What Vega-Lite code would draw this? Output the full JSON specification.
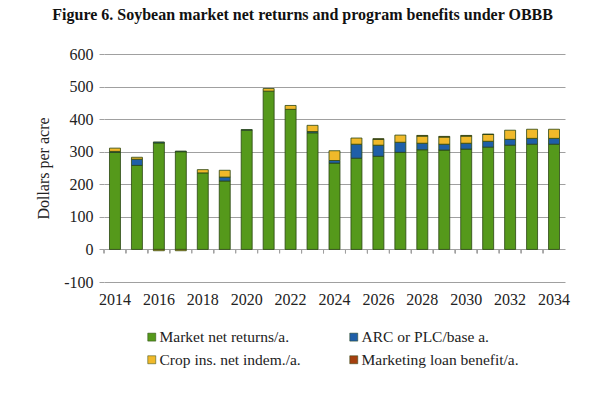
{
  "$schema": "https://vega.github.io/schema/vega-lite/v6.json",
  "width": 461,
  "height": 228,
  "autosize": {"type": "none"},
  "padding": {"left": 104, "top": 54, "right": 35, "bottom": 113},
  "background": "white",
  "title": {
    "text": "Figure 6. Soybean market net returns and program benefits under OBBB",
    "font": "Liberation Serif",
    "fontSize": 16,
    "fontWeight": "bold",
    "color": "#111111",
    "anchor": "middle",
    "frame": "bounds",
    "offset": 23
  },
  "config": {
    "view": {"stroke": null},
    "axis": {"labelFont": "Liberation Serif", "titleFont": "Liberation Serif", "labelColor": "#222222", "titleColor": "#222222"},
    "legend": {"labelFont": "Liberation Serif", "labelColor": "#222222"}
  },
  "data": {
    "values": [
      {"year": 2014, "series": "Market net returns/a.", "value": 298},
      {"year": 2014, "series": "ARC or PLC/base a.", "value": 3},
      {"year": 2014, "series": "Crop ins. net indem./a.", "value": 10},
      {"year": 2015, "series": "Market net returns/a.", "value": 258},
      {"year": 2015, "series": "ARC or PLC/base a.", "value": 19},
      {"year": 2015, "series": "Crop ins. net indem./a.", "value": 6},
      {"year": 2016, "series": "Market net returns/a.", "value": 327},
      {"year": 2016, "series": "ARC or PLC/base a.", "value": 3},
      {"year": 2016, "series": "Crop ins. net indem./a.", "value": -4},
      {"year": 2017, "series": "Market net returns/a.", "value": 300},
      {"year": 2017, "series": "ARC or PLC/base a.", "value": 2},
      {"year": 2017, "series": "Crop ins. net indem./a.", "value": -4},
      {"year": 2018, "series": "Market net returns/a.", "value": 235},
      {"year": 2018, "series": "Crop ins. net indem./a.", "value": 10},
      {"year": 2019, "series": "Market net returns/a.", "value": 210},
      {"year": 2019, "series": "ARC or PLC/base a.", "value": 12},
      {"year": 2019, "series": "Crop ins. net indem./a.", "value": 21},
      {"year": 2020, "series": "Market net returns/a.", "value": 366},
      {"year": 2020, "series": "ARC or PLC/base a.", "value": 2},
      {"year": 2021, "series": "Market net returns/a.", "value": 486},
      {"year": 2021, "series": "Crop ins. net indem./a.", "value": 8},
      {"year": 2022, "series": "Market net returns/a.", "value": 430},
      {"year": 2022, "series": "Crop ins. net indem./a.", "value": 12},
      {"year": 2023, "series": "Market net returns/a.", "value": 358},
      {"year": 2023, "series": "ARC or PLC/base a.", "value": 4},
      {"year": 2023, "series": "Crop ins. net indem./a.", "value": 19},
      {"year": 2024, "series": "Market net returns/a.", "value": 265},
      {"year": 2024, "series": "ARC or PLC/base a.", "value": 8},
      {"year": 2024, "series": "Crop ins. net indem./a.", "value": 30},
      {"year": 2025, "series": "Market net returns/a.", "value": 280},
      {"year": 2025, "series": "ARC or PLC/base a.", "value": 43},
      {"year": 2025, "series": "Crop ins. net indem./a.", "value": 19},
      {"year": 2026, "series": "Market net returns/a.", "value": 286},
      {"year": 2026, "series": "ARC or PLC/base a.", "value": 34},
      {"year": 2026, "series": "Crop ins. net indem./a.", "value": 18},
      {"year": 2026, "series": "Marketing loan benefit/a.", "value": 2},
      {"year": 2027, "series": "Market net returns/a.", "value": 298},
      {"year": 2027, "series": "ARC or PLC/base a.", "value": 31},
      {"year": 2027, "series": "Crop ins. net indem./a.", "value": 22},
      {"year": 2028, "series": "Market net returns/a.", "value": 306},
      {"year": 2028, "series": "ARC or PLC/base a.", "value": 20},
      {"year": 2028, "series": "Crop ins. net indem./a.", "value": 22},
      {"year": 2028, "series": "Marketing loan benefit/a.", "value": 2},
      {"year": 2029, "series": "Market net returns/a.", "value": 305},
      {"year": 2029, "series": "ARC or PLC/base a.", "value": 18},
      {"year": 2029, "series": "Crop ins. net indem./a.", "value": 22},
      {"year": 2029, "series": "Marketing loan benefit/a.", "value": 2},
      {"year": 2030, "series": "Market net returns/a.", "value": 308},
      {"year": 2030, "series": "ARC or PLC/base a.", "value": 18},
      {"year": 2030, "series": "Crop ins. net indem./a.", "value": 22},
      {"year": 2030, "series": "Marketing loan benefit/a.", "value": 2},
      {"year": 2031, "series": "Market net returns/a.", "value": 314},
      {"year": 2031, "series": "ARC or PLC/base a.", "value": 18},
      {"year": 2031, "series": "Crop ins. net indem./a.", "value": 21},
      {"year": 2031, "series": "Marketing loan benefit/a.", "value": 1},
      {"year": 2032, "series": "Market net returns/a.", "value": 320},
      {"year": 2032, "series": "ARC or PLC/base a.", "value": 18},
      {"year": 2032, "series": "Crop ins. net indem./a.", "value": 28},
      {"year": 2033, "series": "Market net returns/a.", "value": 323},
      {"year": 2033, "series": "ARC or PLC/base a.", "value": 18},
      {"year": 2033, "series": "Crop ins. net indem./a.", "value": 28},
      {"year": 2034, "series": "Market net returns/a.", "value": 323},
      {"year": 2034, "series": "ARC or PLC/base a.", "value": 18},
      {"year": 2034, "series": "Crop ins. net indem./a.", "value": 28}
    ]
  },
  "layer": [
    {
      "transform": [
        {"calculate": "indexof(['Market net returns/a.', 'ARC or PLC/base a.', 'Crop ins. net indem./a.', 'Marketing loan benefit/a.'], datum.series)", "as": "stackOrder"}
      ],
      "mark": {"type": "bar", "stroke": "#2a4512", "strokeWidth": 0.8},
      "encoding": {
        "x": {
          "field": "year",
          "type": "ordinal",
          "scale": {"paddingInner": 0.5, "paddingOuter": 0.25},
          "axis": {
            "values": [2014, 2016, 2018, 2020, 2022, 2024, 2026, 2028, 2030, 2032, 2034],
            "title": null,
            "labelAngle": 0,
            "labelFont": "Liberation Serif",
            "labelFontSize": 16,
            "labelPadding": 9,
            "labelOverlap": false,
            "domain": false,
            "ticks": false
          }
        },
        "y": {
          "field": "value",
          "type": "quantitative",
          "scale": {"domain": [-100, 600], "nice": false},
          "axis": {
            "values": [-100, 0, 100, 200, 300, 400, 500, 600],
            "tickCount": 20,
            "labelExpr": "toString(datum.value)",
            "title": "Dollars per acre",
            "titleFont": "Liberation Serif",
            "titleFontSize": 16,
            "titleFontWeight": "normal",
            "titlePadding": 12,
            "labelFont": "Liberation Serif",
            "labelFontSize": 16,
            "labelPadding": 6,
            "labelOverlap": false,
            "domain": false,
            "ticks": true,
            "tickSize": 5,
            "tickColor": "#a0a0a0",
            "grid": true,
            "gridColor": "#a0a0a0",
            "gridWidth": 1
          }
        },
        "order": {"field": "stackOrder", "type": "quantitative", "sort": "ascending"},
        "color": {
          "field": "series",
          "type": "nominal",
          "sort": ["Market net returns/a.", "ARC or PLC/base a.", "Crop ins. net indem./a.", "Marketing loan benefit/a."],
          "scale": {
            "domain": ["Market net returns/a.", "ARC or PLC/base a.", "Crop ins. net indem./a.", "Marketing loan benefit/a."],
            "range": ["#55991b", "#1f5fa8", "#f0b92a", "#a5400f"]
          },
          "legend": {
            "title": null,
            "orient": "none",
            "legendX": 40,
            "legendY": 275,
            "direction": "horizontal",
            "columns": 2,
            "columnPadding": 45,
            "rowPadding": 6,
            "symbolType": "square",
            "symbolSize": 64,
            "symbolStrokeWidth": 0.5,
            "labelFont": "Liberation Serif",
            "labelFontSize": 15.5,
            "labelOffset": 0
          }
        }
      }
    },
    {
      "mark": {"type": "rule", "color": "#a0a0a0", "strokeWidth": 1},
      "encoding": {
        "x": {"field": "year", "type": "ordinal", "bandPosition": -0.5},
        "y": {"datum": 0},
        "y2": {"datum": -12}
      }
    }
  ]
}
